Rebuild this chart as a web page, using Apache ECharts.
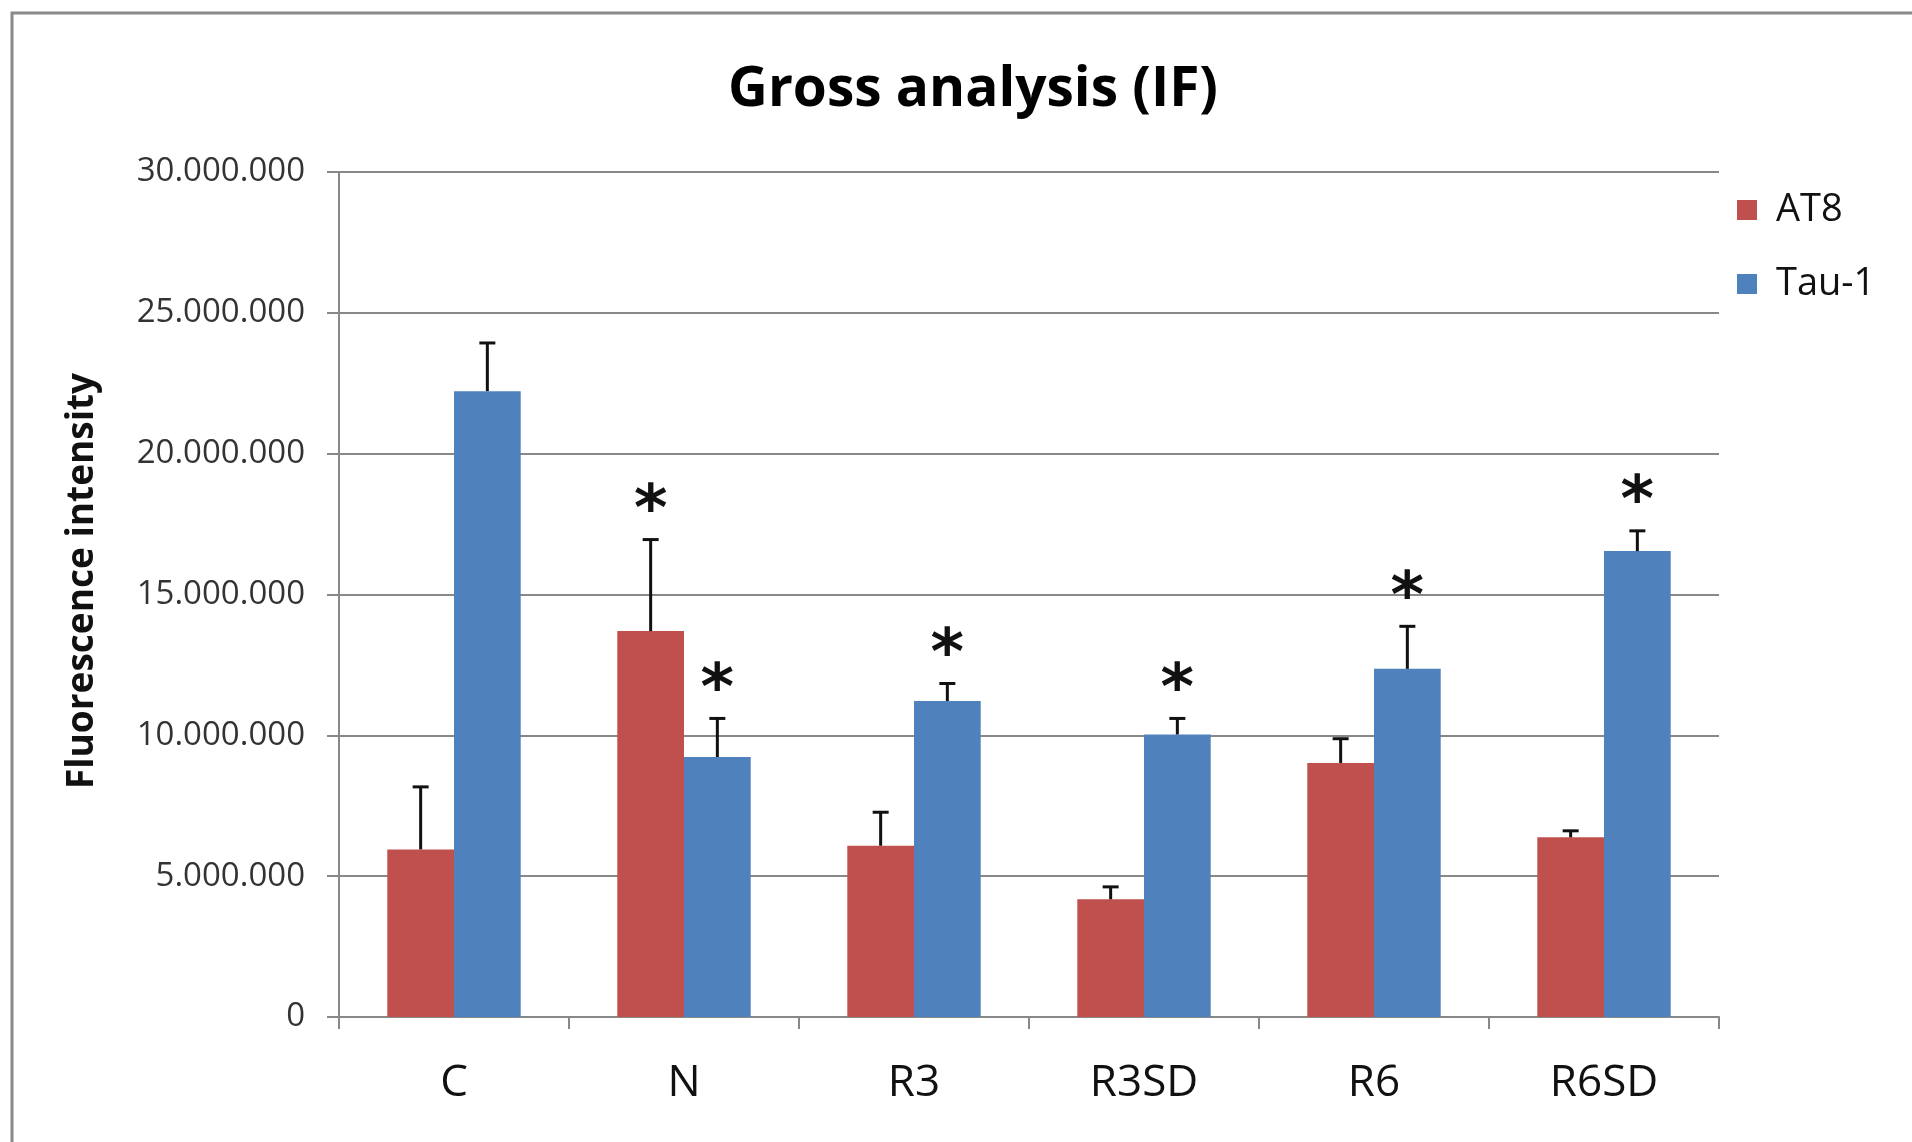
<!DOCTYPE html>
<html>
<head>
<meta charset="utf-8">
<script src="https://cdn.jsdelivr.net/npm/echarts@6/dist/echarts.min.js"></script>
<style>html,body{margin:0;padding:0;background:#fff}#c{width:1912px;height:1142px}</style>
</head>
<body>
<div id="c"></div>
<script>
const categories = ['C', 'N', 'R3', 'R3SD', 'R6', 'R6SD'];
const at8 = [5950000, 13700000, 6080000, 4180000, 9020000, 6380000];
const at8Upper = [8170000, 16950000, 7270000, 4620000, 9880000, 6610000];
const at8Sig = [0, 1, 0, 0, 0, 0];
const tau1 = [22220000, 9230000, 11220000, 10030000, 12360000, 16540000];
const tau1Upper = [23930000, 10600000, 11840000, 10600000, 13870000, 17260000];
const tau1Sig = [0, 1, 1, 1, 1, 1];
const yTicks = [0, 5000000, 10000000, 15000000, 20000000, 25000000, 30000000];

const FONT = '"Open Sans"';
const RED = '#C0504D', BLUE = '#4F81BD';
const CAT_GAP = 0.42;

function fmt(v) {
  return String(Math.round(v)).replace(/\B(?=(\d{3})+(?!\d))/g, '.');
}

function errSeries(means, uppers, sigs, side) {
  return {
    type: 'custom',
    silent: true,
    z: 5,
    data: means.map((m, i) => [i, m, uppers[i], sigs[i]]),
    encode: { x: 0, y: 2 },
    renderItem: function (params, api) {
      const i = api.value(0);
      const catW = api.size([1, 0])[0];
      const bw = catW * (1 - CAT_GAP) / 2;
      const top = api.coord([i, api.value(1)]);
      const up = api.coord([i, api.value(2)]);
      const x = top[0] + side * bw / 2;
      const cap = 8;
      const children = [
        { type: 'line', shape: { x1: x, y1: top[1], x2: x, y2: up[1] }, style: { stroke: '#111', lineWidth: 3 } },
        { type: 'line', shape: { x1: x - cap, y1: up[1], x2: x + cap, y2: up[1] }, style: { stroke: '#111', lineWidth: 3 } }
      ];
      if (api.value(3) === 1) {
        children.push({
          type: 'text',
          style: { text: '*', x: x, y: up[1] + 6, align: 'center', verticalAlign: 'bottom',
                   font: 'bold 64px "DejaVu Sans"', fill: '#111' }
        });
      }
      return { type: 'group', children: children };
    }
  };
}

const chart = echarts.init(document.getElementById('c'), null, { renderer: 'canvas' });
chart.setOption({
  backgroundColor: '#fff',
  animation: false,
  title: {
    text: 'Gross analysis (IF)',
    left: 968, top: 58, textAlign: 'center',
    textStyle: { fontFamily: FONT, fontWeight: 'bold', fontSize: 55, color: '#000' }
  },
  legend: {
    orient: 'vertical',
    left: 1732, top: 186,
    itemWidth: 20, itemHeight: 20, itemGap: 36,
    icon: 'rect',
    textStyle: { fontFamily: FONT, fontSize: 38, color: '#111', padding: [0, 0, 0, 14] },
    data: ['AT8', 'Tau-1']
  },
  grid: { left: 339, right: 193, top: 172, bottom: 125, containLabel: false },
  xAxis: {
    type: 'category',
    data: categories,
    axisLine: { lineStyle: { color: '#888', width: 2 } },
    axisTick: { show: true, length: 12, lineStyle: { color: '#888', width: 2 } },
    axisLabel: { fontFamily: FONT, fontSize: 44, color: '#111', margin: 44 },
    splitLine: { show: false }
  },
  yAxis: {
    type: 'value',
    min: 0, max: 30000000, interval: 5000000,
    name: 'Fluorescence intensity',
    nameLocation: 'middle',
    nameGap: 238,
    nameTextStyle: { fontFamily: FONT, fontWeight: 'bold', fontSize: 37, color: '#111', padding: [0, 0, 0, 27] },
    axisLine: { show: true, lineStyle: { color: '#888', width: 2 } },
    axisTick: { show: true, length: 12, lineStyle: { color: '#888', width: 2 } },
    axisLabel: {
      fontFamily: FONT, fontSize: 33, color: '#333', margin: 34,
      formatter: function (v) { return yTicks.indexOf(v) >= 0 ? fmt(v) : ''; }
    },
    splitLine: { show: true, lineStyle: { color: '#888', width: 2 } }
  },
  graphic: [{
    type: 'rect', z: -10,
    shape: { x: 12, y: 13, width: 2000, height: 1200 },
    style: { fill: 'none', stroke: '#8a8a8a', lineWidth: 3 }
  }],
  series: [
    { name: 'AT8', type: 'bar', data: at8, barGap: '0%', barCategoryGap: (CAT_GAP * 100) + '%',
      itemStyle: { color: RED }, z: 3 },
    { name: 'Tau-1', type: 'bar', data: tau1, barGap: '0%', barCategoryGap: (CAT_GAP * 100) + '%',
      itemStyle: { color: BLUE }, z: 3 },
    errSeries(at8, at8Upper, at8Sig, -1),
    errSeries(tau1, tau1Upper, tau1Sig, 1)
  ]
});
</script>
</body>
</html>
